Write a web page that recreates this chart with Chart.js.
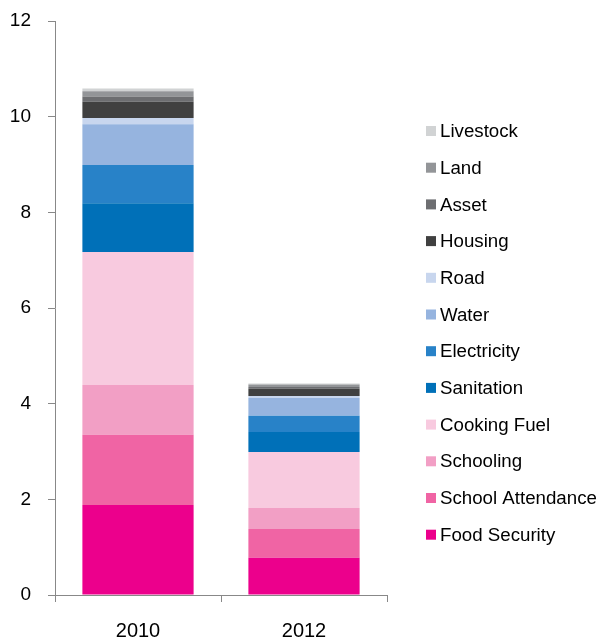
<!DOCTYPE html>
<html>
<head>
<meta charset="utf-8">
<script src="https://cdn.jsdelivr.net/npm/chart.js@4/dist/chart.umd.min.js"></script>
<style>
html,body{margin:0;padding:0;background:#fff;}
#wrap{width:598px;height:641px;position:relative;}
</style>
</head>
<body>
<div id="wrap"><canvas id="c" width="598" height="641"></canvas></div>
<script>
const categories = ["2010", "2012"];
const seriesNames = ["Food Security","School Attendance","Schooling","Cooking Fuel","Sanitation","Electricity","Water","Road","Housing","Asset","Land","Livestock"];
const foodSecurity     = [1.88, 0.78];
const schoolAttendance = [1.47, 0.60];
const schooling        = [1.04, 0.44];
const cookingFuel      = [2.78, 1.17];
const sanitation       = [1.02, 0.42];
const electricity      = [0.80, 0.34];
const water            = [0.85, 0.37];
const road             = [0.13, 0.04];
const housing          = [0.34, 0.15];
const asset            = [0.11, 0.04];
const land             = [0.11, 0.05];
const livestock        = [0.06, 0.02];
const yTicks = [0, 2, 4, 6, 8, 10, 12];

const seriesValues = [foodSecurity, schoolAttendance, schooling, cookingFuel, sanitation, electricity, water, road, housing, asset, land, livestock];
const colors = ["#EC008C","#F064A4","#F29FC5","#F8CADF","#0070B8","#2882C8","#96B4DF","#C8D6EE","#404040","#6D6E71","#939598","#D1D3D4"];

const datasets = seriesNames.map((n, i) => ({
  label: n,
  data: seriesValues[i],
  backgroundColor: colors[i],
  borderWidth: 0,
  barPercentage: 0.67,
  categoryPercentage: 1.0
}));

const FONT = "'Liberation Sans', Arial, sans-serif";
Chart.defaults.font.family = FONT;
Chart.defaults.color = "#000";

// Legend drawn on the right, reversed order, from the chart's own datasets
const sideLegend = {
  id: 'sideLegend',
  afterDraw(chart, args, opts) {
    const ctx = chart.ctx;
    const ds = chart.data.datasets.slice().reverse();
    ctx.save();
    ctx.font = opts.fontSize + 'px ' + FONT;
    ctx.textBaseline = 'middle';
    ctx.textAlign = 'left';
    ds.forEach((d, i) => {
      const cy = opts.top + i * opts.step;
      ctx.fillStyle = d.backgroundColor;
      ctx.fillRect(opts.x, cy - opts.box / 2, opts.box, opts.box);
      ctx.fillStyle = '#000';
      ctx.fillText(d.label, opts.x + opts.box + 4, cy + 1);
    });
    ctx.restore();
  }
};

new Chart(document.getElementById('c'), {
  type: 'bar',
  data: { labels: categories, datasets },
  plugins: [sideLegend],
  options: {
    responsive: false,
    animation: false,
    layout: { padding: { top: 21, left: 10, right: 211, bottom: 0 } },
    plugins: {
      tooltip: { enabled: false },
      legend: { display: false },
      sideLegend: { x: 426, top: 131, step: 36.7, box: 10, fontSize: 18.7 }
    },
    scales: {
      x: {
        stacked: true,
        afterFit: (s) => { s.height = 46; },
        grid: { display: true, drawOnChartArea: false, drawTicks: true, tickLength: 7, color: '#888', offset: true },
        border: { display: true, color: '#888' },
        ticks: { font: { size: 20, lineHeight: 1.0 }, color: '#000', padding: 19 }
      },
      y: {
        stacked: true,
        min: 0,
        max: 12,
        afterFit: (s) => { s.width = 45; s.paddingTop = 0; s.paddingBottom = 0; },
        afterBuildTicks: (axis) => { axis.ticks = yTicks.map(v => ({ value: v })); },
        grid: { display: true, drawOnChartArea: false, drawTicks: true, tickLength: 7, color: '#888' },
        border: { display: true, color: '#888' },
        ticks: { font: { size: 19, lineHeight: 1.0 }, color: '#000', padding: 17 }
      }
    }
  }
});
</script>
</body>
</html>
